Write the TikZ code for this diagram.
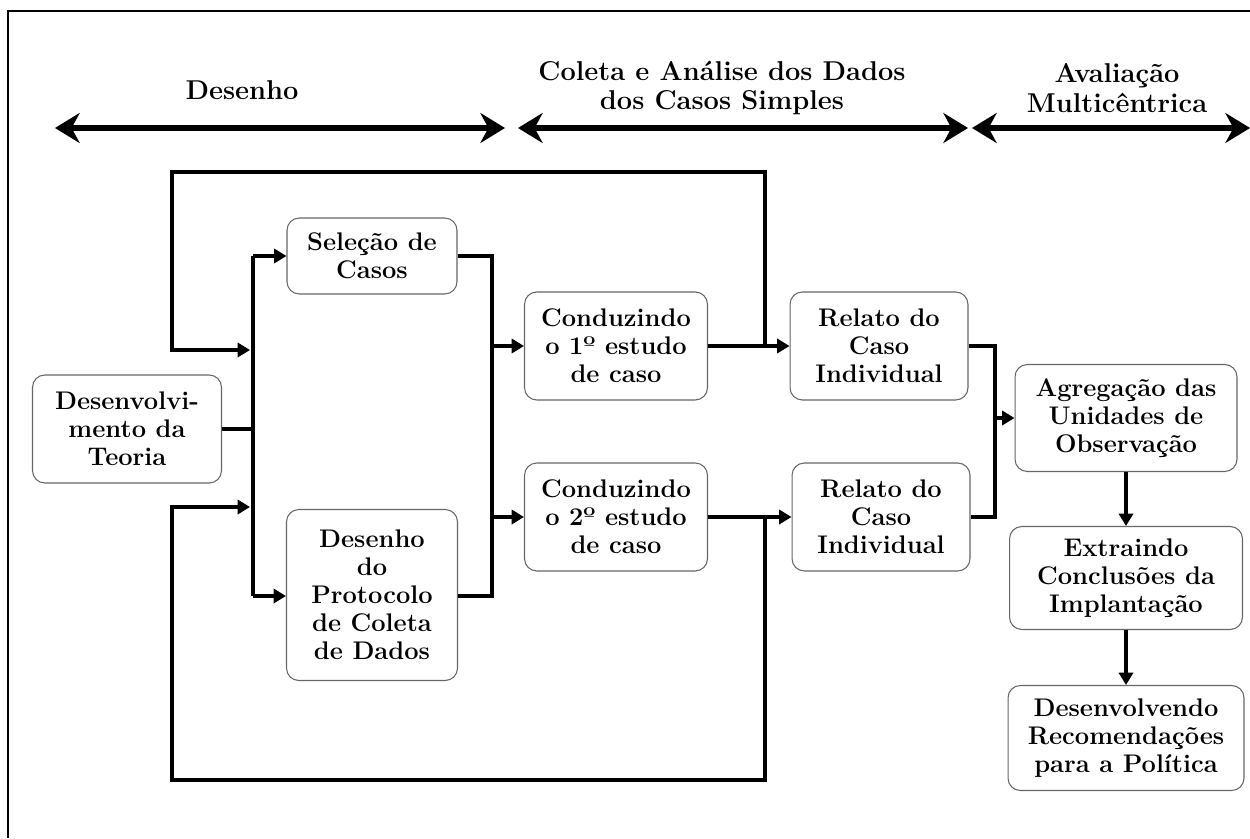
\documentclass[tikz,border=0pt]{standalone}
\usetikzlibrary{arrows.meta}

\tikzset{
  stage/.style={draw=black!60, line width=0.6pt, rounded corners=7pt,
    align=center, inner sep=2pt,
    font=\bfseries\fontsize{14.5}{16}\selectfont},
  wire/.style={line width=2.7pt},
  link/.style={wire, -{Triangle[length=7pt,width=8pt]}},
  phase/.style={line width=3.6pt,
    {Stealth[length=14pt,width=17pt]}-{Stealth[length=14pt,width=17pt]}},
  phaselabel/.style={align=center, font=\bfseries\fontsize{15.5}{17}\selectfont}
}

\begin{document}
\begin{tikzpicture}[x=0.02cm,y=-0.02cm]

  \useasboundingbox (0,0) rectangle (1250,838);

  % frame
  \draw[line width=1.4pt] (8,838) -- (8,11) -- (1250,11);

  % phases on top
  \node[phaselabel] (phDesenho) at (242,90) {Desenho};
  \node[phaselabel] (phColeta)  at (722,88) {Coleta e An\'alise dos Dados\\dos Casos Simples};
  \node[phaselabel] (phAvalia)  at (1117,88) {Avalia\c{c}\~ao\\Multic\^entrica};
  \draw[phase] (55,128) -- (505,128);
  \draw[phase] (518,128) -- (968,128);
  \draw[phase] (972,128) -- (1250,128);

  % stages
  \node[stage, minimum width=3.78cm, minimum height=2.16cm] (teoria)    at (127,429) {Desenvolvi-\\mento da\\Teoria};
  \node[stage, minimum width=3.40cm, minimum height=1.52cm] (selecao)   at (372,256) {Sele\c{c}\~ao de\\Casos};
  \node[stage, minimum width=3.42cm, minimum height=3.42cm] (protocolo) at (372,595) {Desenho\\do\\Protocolo\\de Coleta\\de Dados};
  \node[stage, minimum width=3.66cm, minimum height=2.16cm] (conduzA)   at (616,346) {Conduzindo\\o 1º estudo\\de caso};
  \node[stage, minimum width=3.66cm, minimum height=2.16cm] (conduzB)   at (616,517) {Conduzindo\\o 2º estudo\\de caso};
  \node[stage, minimum width=3.56cm, minimum height=2.16cm] (relatoA)   at (879,346) {Relato do\\Caso\\Individual};
  \node[stage, minimum width=3.56cm, minimum height=2.16cm] (relatoB)   at (881,517) {Relato do\\Caso\\Individual};
  \node[stage, minimum width=4.44cm, minimum height=2.14cm] (agregacao) at (1126,418) {Agrega\c{c}\~ao das\\Unidades de\\Observa\c{c}\~ao};
  \node[stage, minimum width=4.66cm, minimum height=2.06cm] (extraindo) at (1126,578) {Extraindo\\Conclus\~oes da\\Implanta\c{c}\~ao};
  \node[stage, minimum width=4.72cm, minimum height=2.10cm] (recomenda) at (1126,738) {Desenvolvendo\\Recomenda\c{c}\~oes\\para a Pol\'itica};

  % junction points
  \coordinate (spineTop) at (253,256);
  \coordinate (spineBot) at (253,596);
  \coordinate (spineInA) at (250,350);
  \coordinate (spineInB) at (250,507);
  \coordinate (midTop)   at (492,256);
  \coordinate (midBot)   at (492,596);
  \coordinate (fbA)      at (765,346);
  \coordinate (fbB)      at (765,517);
  \coordinate (loopTop)  at (172,172);
  \coordinate (loopBot)  at (172,780);
  \coordinate (mergeBot) at (995,517);

  % left spine
  \draw[wire] (teoria.east) -- (spineTop |- teoria.east);
  \draw[wire] (spineTop) -- (spineBot);
  \draw[link] (spineTop) -- (selecao.west);
  \draw[link] (spineBot) -- (spineBot -| protocolo.west);

  % middle spine
  \draw[wire] (selecao.east) -- (midTop) -- (midBot) -- (protocolo.east |- midBot);
  \draw[link] (midTop |- conduzA.west) -- (conduzA.west);
  \draw[link] (midTop |- conduzB.west) -- (conduzB.west);

  % cases
  \draw[link] (conduzA) -- (relatoA);
  \draw[link] (conduzB.east) -- (conduzB.east -| relatoB.west);

  % feedback loops
  \draw[link] (fbA) |- (loopTop) |- (spineInA);
  \draw[link] (fbB) |- (loopBot) |- (spineInB);

  % merge and cross-case
  \draw[wire] (relatoA.east) -| (mergeBot) -- (relatoB.east);
  \draw[link] (mergeBot |- agregacao.west) -- (agregacao.west);
  \draw[link] (agregacao) -- (extraindo);
  \draw[link] (extraindo) -- (recomenda);

\end{tikzpicture}
\end{document}
